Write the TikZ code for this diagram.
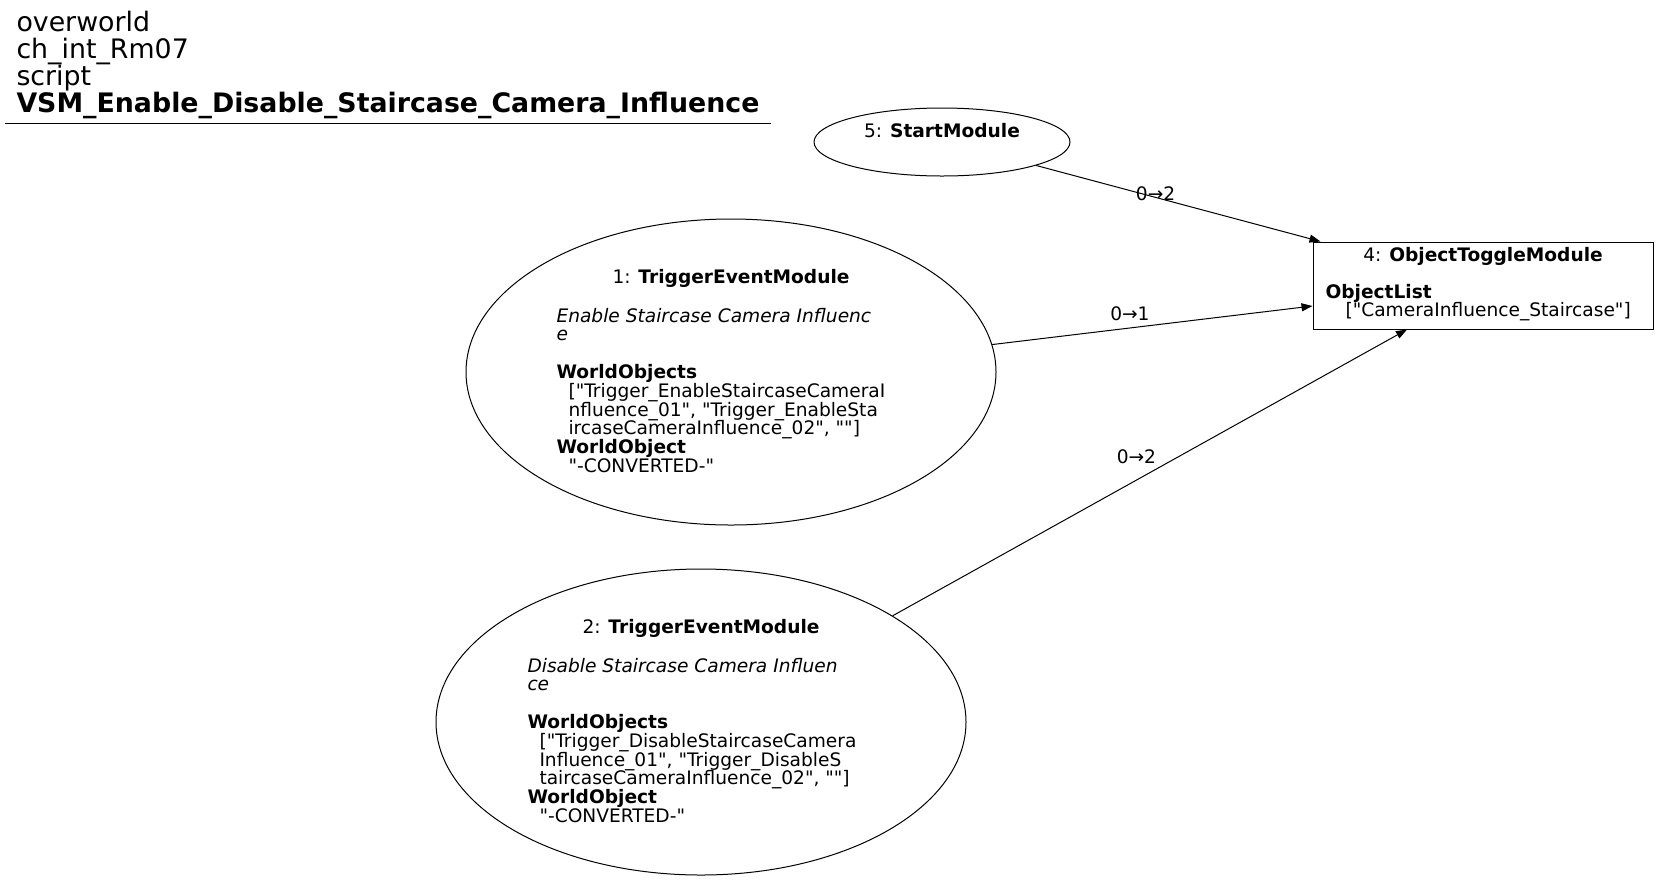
\documentclass[tikz,border=0pt]{standalone}
\usepackage{fontspec}
\setmainfont{DejaVu Sans}[Ligatures=TeXOff]
\usetikzlibrary{shapes.geometric,arrows.meta}

\tikzset{
    module/.style={draw, ellipse, minimum width=530, minimum height=306, inner sep=0pt},
    box/.style={draw, rectangle, minimum width=340, minimum height=87, inner sep=0pt},
    txt/.style={inner sep=0pt, font=\fontsize{18.6}{18.8}\selectfont},
    title/.style={inner sep=0pt, anchor=base west, font=\fontsize{26.8}{27.3}\selectfont},
    edge/.style={-{Triangle[length=11pt,width=8pt]}},
    elabel/.style={inner sep=0pt, font=\fontsize{18.6}{18.8}\selectfont}
}
\newcommand{\rows}[1]{\vtop{\lineskiplimit=-\maxdimen\lineskip=0pt\halign{##\hfil\cr#1\crcr}}}
\newcommand{\ind}{\hspace*{12pt}}

\begin{document}
\begin{tikzpicture}[x=1pt,y=-1pt,line width=1pt]
    \useasboundingbox (0,0) rectangle (1659,879);
    \node[title] (head) at (16,31) {\rows{overworld\cr ch\_int\_Rm07\cr script\cr\textbf{VSM\_Enable\_Disable\_Staircase\_Camera\_Influence}}};
    \draw (5,123) -- (771,123);

    \node[draw, ellipse, minimum width=256, minimum height=68, inner sep=0pt] (start) at (942,142) {};
    \node[txt, anchor=base] (startlbl) at (942,137) {5: \textbf{StartModule}};

    \node[box] (obj) at (1483,285.5) {};
    \node[txt, anchor=base] (objhead) at (1483,261) {4: \textbf{ObjectToggleModule}};
    \node[txt, anchor=base west] (objbody) at (1325,298) {\rows{\textbf{ObjectList}\cr\hspace*{20pt}["CameraInfluence\_Staircase"]}};

    \node[module] (ev1) at (731,372) {};
    \node[txt, anchor=base] (ev1head) at (731,283) {1: \textbf{TriggerEventModule}};
    \node[txt, anchor=base west] (ev1body) at (556,322) {\rows{\textit{Enable Staircase Camera Influenc}\cr\textit{e}\cr\cr\textbf{WorldObjects}\cr\ind["Trigger\_EnableStaircaseCameraI\cr\ind nfluence\_01", "Trigger\_EnableSta\cr\ind ircaseCameraInfluence\_02", ""]\cr\textbf{WorldObject}\cr\ind"-CONVERTED-"}};

    \node[module] (ev2) at (701,722) {};
    \node[txt, anchor=base] (ev2head) at (701,633) {2: \textbf{TriggerEventModule}};
    \node[txt, anchor=base west] (ev2body) at (527,672) {\rows{\textit{Disable Staircase Camera Influen}\cr\textit{ce}\cr\cr\textbf{WorldObjects}\cr\ind["Trigger\_DisableStaircaseCamera\cr\ind Influence\_01", "Trigger\_DisableS\cr\ind taircaseCameraInfluence\_02", ""]\cr\textbf{WorldObject}\cr\ind"-CONVERTED-"}};

    \draw[edge] (start.-14.5) -- ([xshift=8pt]obj.north west) node[elabel, pos=0.42, yshift=4pt] {0→2};
    \draw[edge] (ev1.6.6) -- ([yshift=-20.5pt]obj.west) node[elabel, pos=0.43, yshift=14pt] {0→1};
    \draw[edge] (ev2.29.5) -- ([xshift=-76pt]obj.south) node[elabel, pos=0.474, yshift=23pt] {0→2};
\end{tikzpicture}
\end{document}
